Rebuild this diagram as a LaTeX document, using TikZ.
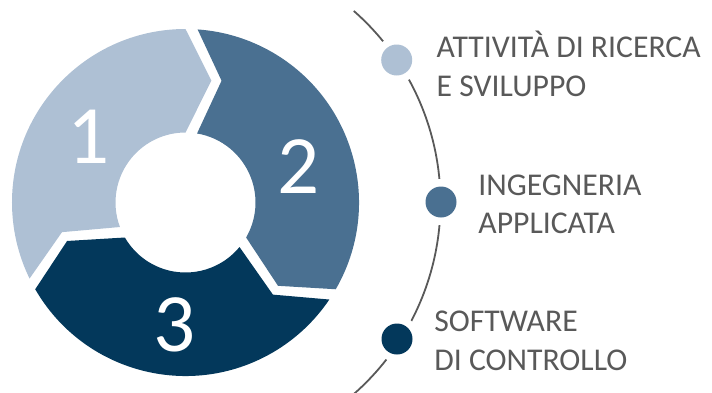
\documentclass[tikz,border=0pt]{standalone}
\usepackage{fontspec}
\setmainfont{Carlito}
\definecolor{segA}{HTML}{AEC0D4}
\definecolor{segB}{HTML}{4A7091}
\definecolor{segC}{HTML}{03385B}
\definecolor{txt}{HTML}{595959}
\begin{document}
\begin{tikzpicture}[x=1pt,y=1pt,
  num/.style={inner sep=0pt, text=white, font=\fontsize{83}{83}\selectfont},
  dot/.style={circle, inner sep=0pt, minimum size=31pt, fill=#1,
     preaction={draw=white, line width=15pt}},
  lab/.style={inner sep=0pt, anchor=base west, text=txt, font=\fontsize{31.7}{36}\selectfont},
  arcline/.style={draw=txt, line width=1.8pt}]
\useasboundingbox (-185.5,-189.5) rectangle (526.5,202.5);
% ring segments
\foreach \B/\col in {90/segA,-30/segB,-150/segC}{
  \fill[\col] ({\B+120-4}:173.5pt) -- ({\B+120-16.5}:127pt) -- ({\B+120-9.5}:70pt)
     arc[start angle={\B+120-9.5}, end angle=\B, radius=70pt]
     -- ({\B-12}:124.5pt) -- (\B:173.5pt)
     arc[start angle=\B, end angle={\B+120-4}, radius=173.5pt] -- cycle;
}
\node[num] (n1) at (-96.5,66) {1};
\node[num] (n2) at (113,36) {2};
\node[num] (n3) at (-10.5,-122.5) {3};
% arc
\draw[arcline] (48.7:255pt) arc[start angle=48.7, end angle=-48.7, radius=255pt];
\node[dot=segA] (d1) at (211.2,142.5) {};
\node[dot=segB] (d2) at (255.5,0.5) {};
\node[dot=segC] (d3) at (211.5,-136.5) {};
% labels
\node[lab] (t1a) at (251,145.2) {ATTIVITÀ DI RICERCA};
\node[lab] (t1b) at (251,106.5) {E SVILUPPO};
\node[lab] (t2a) at (292.7,6.8) {INGEGNERIA};
\node[lab] (t2b) at (292.7,-30.8) {APPLICATA};
\node[lab] (t3a) at (248.7,-129.2) {SOFTWARE};
\node[lab] (t3b) at (248.7,-167.5) {DI CONTROLLO};
\end{tikzpicture}
\end{document}
